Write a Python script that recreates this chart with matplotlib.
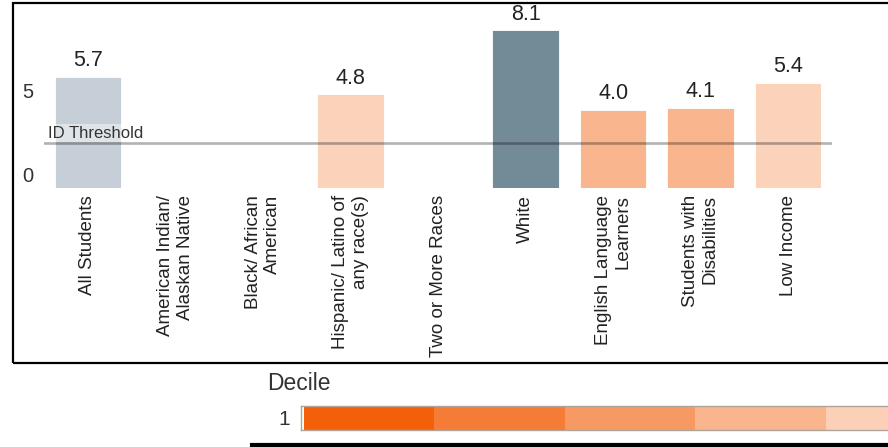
import matplotlib.pyplot as plt
from matplotlib.patches import Rectangle
from matplotlib.transforms import ScaledTranslation

plt.rcParams['font.family'] = ['Liberation Sans', 'DejaVu Sans']

# Дані
groups = ["All Students", "American Indian/\nAlaskan Native", "Black/ African\nAmerican",
          "Hispanic/ Latino of\nany race(s)", "Two or More Races", "White",
          "English Language\nLearners", "Students with\nDisabilities", "Low Income"]
values = [5.7, None, None, 4.8, None, 8.1, 4.0, 4.1, 5.4]
bar_colors = ["#c6cfd7", "none", "none", "#fbd3bb", "none", "#738a97",
              "#f8b58e", "#f8b58e", "#fbd3bb"]
threshold = 2.3
deciles = [1, 2, 3, 4, 5]
decile_colors = ["#f45f0a", "#f47c36", "#f69962", "#f8b58e", "#fbd0b6"]

W, H = 888, 447
fig = plt.figure(figsize=(W / 100, H / 100), dpi=100)

# Рамка навколо графіка
fig.patches.append(Rectangle((13 / W, 1 - 363 / H), 1.2, (363 - 3) / H,
                             transform=fig.transFigure, fill=False,
                             edgecolor="black", linewidth=1.6))

ax = fig.add_axes([44 / W, 1 - 187.5 / H, (832 - 44) / W, 167 / H])
x = list(range(len(groups)))
for i, v in enumerate(values):
    if v is None:
        continue
    ax.bar(i, v, width=0.76, color=bar_colors[i], edgecolor="white", linewidth=0.6)
    ax.annotate(f"{v:.1f}", (i, v), xytext=(0, 4), textcoords="offset points",
                ha="center", va="bottom", fontsize=15.5, color="#222222")

ax.axhline(threshold, color="black", alpha=0.3, linewidth=1.9)
ax.text(-0.455, threshold + 0.27, "ID Threshold", fontsize=12, color="#333333",
        ha="left", va="baseline",
        bbox=dict(facecolor="white", alpha=0.45, edgecolor="none", pad=1))

ax.set_xlim(-0.5, 8.5)
ax.set_ylim(0, 8.6)
ax.set_xticks(x)
ax.set_xticklabels(groups, rotation=90, ha="center", va="top",
                   multialignment="right", fontsize=13.5, color="#222222")
ax.set_yticks([0, 5])
ax.set_yticklabels(["0", "5"], fontsize=14.5, color="#333333")
ax.tick_params(length=0)
ax.tick_params(axis="x", pad=5.5)
ax.tick_params(axis="y", pad=8)
ylabels = ax.get_yticklabels()
ylabels[0].set_transform(ylabels[0].get_transform() +
                         ScaledTranslation(0, 13 / 100, fig.dpi_scale_trans))
for s in ax.spines.values():
    s.set_visible(False)
ax.patch.set_alpha(0)

# Легенда децилів
fig.text(267 / W, 1 - 383 / H, "Decile", fontsize=16.5, color="#333333",
         ha="left", va="center")
lax = fig.add_axes([301 / W, 1 - 429.5 / H, 131 * 5 / W, 24 / H])
lax.barh([0] * len(deciles), [1] * len(deciles), left=[d - 1 for d in deciles],
         height=1, color=decile_colors, edgecolor="none")
lax.set_xlim(-0.02, len(deciles))
lax.set_ylim(-0.5, 0.5)
lax.set_xticks([])
lax.set_yticks([0])
lax.set_yticklabels(["1"], fontsize=15, color="#333333")
lax.tick_params(length=0, pad=8)
for s in lax.spines.values():
    s.set_color("#b0a498")
    s.set_linewidth(1)

# Товста лінія внизу
fig.add_artist(plt.Line2D([252 / W, 1], [1 - 445 / H, 1 - 445 / H],
                          transform=fig.transFigure, color="black", linewidth=3))

plt.savefig("out.png", dpi=100)
